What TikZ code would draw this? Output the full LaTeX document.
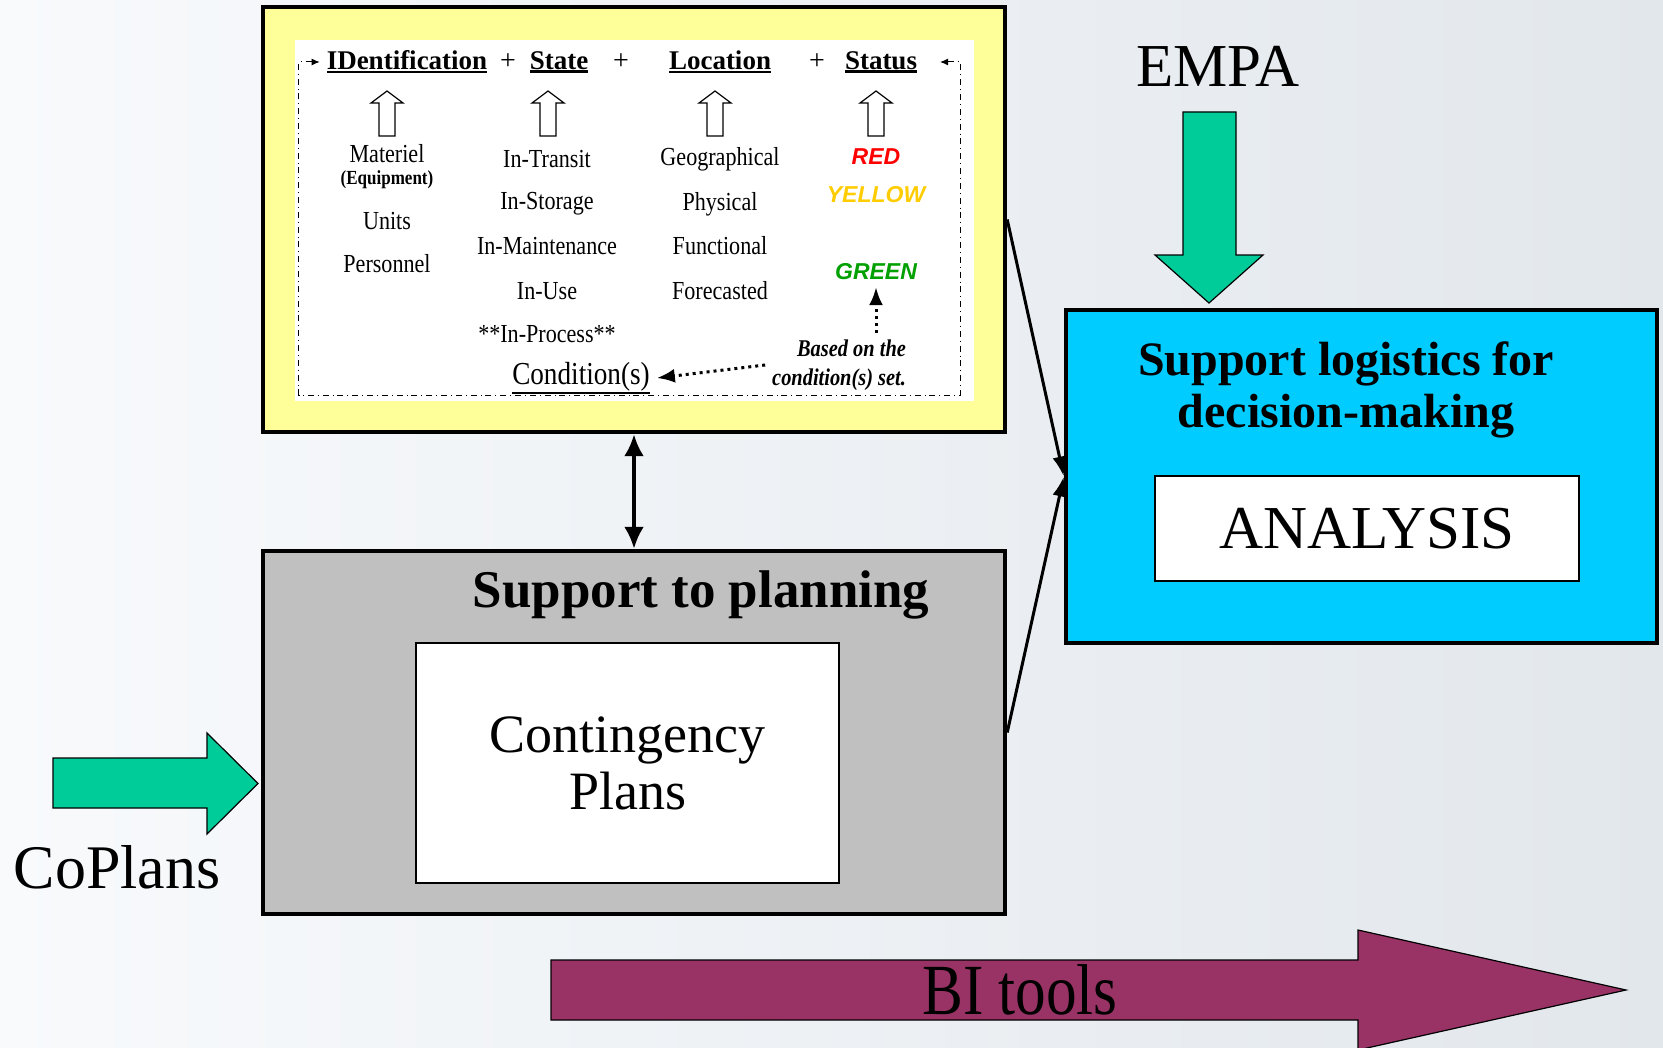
\documentclass[tikz,border=0pt]{standalone}
\usepackage{fontspec}
\setmainfont{Liberation Serif}
\newfontfamily\condfont[FakeStretch=0.85]{Liberation Serif}
\newfontfamily\sansfont{Liberation Sans}
\usepackage{xcolor}
\usepackage{tikz}
\usetikzlibrary{arrows.meta}
\definecolor{boxyellow}{HTML}{FFFF99}
\definecolor{boxgray}{HTML}{C0C0C0}
\definecolor{boxblue}{HTML}{00CCFF}
\definecolor{arrowgreen}{HTML}{00CC99}
\definecolor{arrowplum}{HTML}{993366}
\definecolor{statred}{HTML}{FF0000}
\definecolor{statyellow}{HTML}{FFCC00}
\definecolor{statgreen}{HTML}{00A000}
\definecolor{bgleft}{HTML}{F8FAFC}
\definecolor{bgright}{HTML}{E2E7EC}
\newsavebox\ulbox
\newcommand{\thickul}[1]{\sbox\ulbox{#1}\rlap{\rule[-\dimexpr\dp\ulbox+1.6pt\relax]{\wd\ulbox}{1.2pt}}\usebox\ulbox}

\begin{document}
\begin{tikzpicture}[x=0.5pt, y=-0.5pt,
  bigbox/.style={draw, line width=2.2pt, inner sep=0pt},
  header/.style={font=\fontsize{13.5}{15}\selectfont\bfseries},
  plus/.style={font=\fontsize{14}{15}\selectfont},
  item/.style={font=\condfont\fontsize{13}{15}\selectfont},
  status/.style={font=\sansfont\bfseries\itshape\fontsize{11.5}{13}\selectfont},
  blockarrow/.style={draw, line width=0.6pt},
  bigtext/.style={font=\fontsize{30.5}{34}\selectfont}]
\useasboundingbox (0,0) rectangle (1663,1048);
\shade[left color=bgleft, right color=bgright] (0,0) rectangle (1663,1048);

\node[bigbox, fill=boxyellow, minimum width=371pt, minimum height=212.5pt] (yellow) at (634,219.5) {};
\node[fill=white, inner sep=0pt, minimum width=339.5pt, minimum height=180.5pt] (inner) at (634.5,220.5) {};

\node[header] (ident) at (407,62) {\thickul{IDentification}};
\node[plus] (plusa) at (508,62) {+};
\node[header] (state) at (559,62) {\thickul{State}};
\node[plus] (plusb) at (621,62) {+};
\node[header] (location) at (720,62) {\thickul{Location}};
\node[plus] (plusc) at (817,62) {+};
\node[header] (status) at (881,62) {\thickul{Status}};

\foreach \cx in {387,548,715,876}
  \draw[fill=white, line width=0.6pt] (\cx-8,136) -- (\cx-8,103) -- (\cx-16,103) -- (\cx,91)
    -- (\cx+16,103) -- (\cx+8,103) -- (\cx+8,136) -- cycle;

\node[item] (materiel) at (387,154) {Materiel};
\node[font=\condfont\fontsize{10}{12}\selectfont\bfseries] (equip) at (387,180) {(Equipment)};
\node[item] (units) at (387,221) {Units};
\node[item] (personnel) at (387,264) {Personnel};

\node[item] (transit) at (547,159) {In-Transit};
\node[item] (storage) at (547,204) {In-Storage};
\node[item] (maint) at (547,246) {In-Maintenance};
\node[item] (inuse) at (547,291) {In-Use};
\node[item] (process) at (547,334) {**In-Process**};

\node[item] (geo) at (720,159) {Geographical};
\node[item] (phys) at (720,204) {Physical};
\node[item] (func) at (720,246) {Functional};
\node[item] (fore) at (720,291) {Forecasted};

\node[status, text=statred] (red) at (876,157) {RED};
\node[status, text=statyellow] (yel) at (876,195) {YELLOW};
\node[status, text=statgreen] (green) at (876,272) {GREEN};

\node[font=\condfont\fontsize{16}{18}\selectfont] (cond) at (581,378) {\thickul{Condition(s)}};
\node[align=right, anchor=east, font=\condfont\fontsize{12}{14.5}\selectfont\bfseries\itshape] (based) at (913,365) {Based on the\\condition(s) set.};

\draw[dotted, line width=1.5pt, -{Latex[length=9pt,width=7pt]}] (based.north -| green) -- (green.south);
\draw[dotted, line width=1.5pt, -{Latex[length=9pt,width=7pt]}] (based.west) -- (cond.east);
\draw[dash dot, line width=0.5pt, {Latex[length=4pt,width=3.5pt]}-{Latex[length=4pt,width=3.5pt]}]
  ([xshift=8pt]status.east) -| (960,395) -| ([xshift=-10.5pt]ident.west) -- (ident.west);

\node[bigbox, fill=boxgray, minimum width=371pt, minimum height=181.5pt] (gray) at (634,732.5) {};
\node[font=\fontsize{26.5}{30}\selectfont\bfseries] (plantitle) at (701,595) {Support to planning};
\node[draw, line width=1pt, fill=white, minimum width=211.5pt, minimum height=120pt, align=center,
  font=\fontsize{27}{28.5}\selectfont] (contingency) at (627.5,763) {Contingency\\Plans};

\node[bigbox, fill=boxblue, minimum width=295.5pt, minimum height=166.5pt] (blue) at (1361.5,476.5) {};
\node[align=center, font=\fontsize{24}{26}\selectfont\bfseries] (logtitle) at (1346,390) {Support logistics for\\decision-making};
\node[draw, line width=1pt, fill=white, minimum width=212pt, minimum height=52.5pt, bigtext] (analysis) at (1367,528.5) {ANALYSIS};

\draw[line width=2pt, {Latex[length=11pt,width=10pt]}-{Latex[length=11pt,width=10pt]}] (yellow) -- (gray);
\draw[line width=1.5pt, -{Latex[length=10pt,width=7pt]}] (yellow.east) -- (blue.west);
\draw[line width=1.5pt, -{Latex[length=10pt,width=7pt]}] (gray.east) -- (blue.west);

\draw[blockarrow, fill=arrowgreen] (1183,112) -- (1236,112) -- (1236,255) -- (1263,255) -- (1209,303)
  -- (1155,255) -- (1183,255) -- cycle;
\node[bigtext] (empa) at (1218,66) {EMPA};

\draw[blockarrow, fill=arrowgreen] (53,758) -- (207,758) -- (207,733) -- (258,783.5) -- (207,834)
  -- (207,808) -- (53,808) -- cycle;
\node[font=\fontsize{31}{34}\selectfont] (coplans) at (117,867) {CoPlans};

\draw[blockarrow, fill=arrowplum] (551,960) -- (1358,960) -- (1358,930) -- (1626,990) -- (1358,1050)
  -- (1358,1020) -- (551,1020) -- cycle;
\node[font=\condfont\fontsize{36}{40}\selectfont] (bitools) at (1020,990) {BI tools};
\end{tikzpicture}
\end{document}
